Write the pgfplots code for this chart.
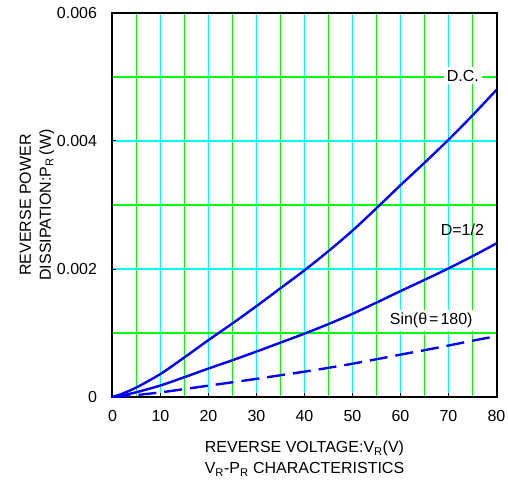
\documentclass[border=0pt]{standalone}
\usepackage{fontspec}
\setmainfont{Liberation Sans}
\usepackage{pgfplots}
\pgfplotsset{compat=1.18}
\definecolor{gridgreen}{RGB}{0,255,0}
\definecolor{gridcyan}{RGB}{0,255,255}
\definecolor{curveblue}{RGB}{0,0,255}
\begin{document}
\fontsize{16bp}{20bp}\selectfont
\begin{tikzpicture}
\begin{axis}[
  scale only axis, width=384bp, height=384bp,
  xmin=0, xmax=80, ymin=0, ymax=0.006,
  xtick={0,10,...,80}, xticklabels={0,10,20,30,40,50,60,70,80},
  ytick={0,0.002,0.004,0.006}, yticklabels={0,0.002,0.004,0.006},
  minor xtick={5,15,...,75}, minor ytick={0.001,0.003,0.005},
  scaled y ticks=false,
  grid=both,
  major grid style={gridcyan, line width=1.2bp},
  minor grid style={gridgreen, line width=1.2bp},
  tick align=inside, xtick pos=left, ytick pos=left,
  major tick length=4bp, minor tick length=0pt,
  tick style={black, line width=1bp},
  axis line style={black, line width=2bp},
  yticklabel style={xshift=-10bp},
  xticklabel style={yshift=-8bp},
  ylabel={REVERSE POWER\\DISSIPATION:P\textsubscript{R}\,(W)},
  ylabel style={align=center, at={(axis description cs:-0.197,0.5)}, anchor=center, font=\fontsize{16bp}{20bp}\selectfont},
  xlabel={REVERSE VOLTAGE:V\textsubscript{R}(V)\\V\textsubscript{R}-P\textsubscript{R} CHARACTERISTICS},
  xlabel style={align=center, at={(axis description cs:0.5,-0.161)}, anchor=center, font=\fontsize{16bp}{21bp}\selectfont},
]
\addplot[curveblue, line width=2.4bp, smooth] coordinates {
(0,0) (2,0.00005) (5,0.00015) (10,0.00036) (15,0.00062) (20,0.00089) (25,0.00115) (30,0.00142) (35,0.00170) (40,0.00198) (45,0.00228) (50,0.00260) (55,0.00295) (60,0.00331) (65,0.00366) (70,0.00402) (75,0.00440) (80,0.00480)};
\addplot[curveblue, line width=2.4bp, smooth] coordinates {
(0,0) (2,0.000025) (5,0.000075) (10,0.00018) (15,0.00031) (20,0.000445) (25,0.000575) (30,0.00071) (35,0.00085) (40,0.00099) (45,0.00114) (50,0.00130) (55,0.001475) (60,0.001655) (65,0.00183) (70,0.00201) (75,0.00220) (80,0.00240)};
\addplot[curveblue, line width=2.4bp, smooth, dash pattern=on 18bp off 8bp] coordinates {
(0,0) (2,0.00001) (5,0.00003) (10,0.000072) (15,0.000124) (20,0.000178) (25,0.00023) (30,0.000284) (35,0.00034) (40,0.000396) (45,0.000456) (50,0.00052) (55,0.00059) (60,0.000662) (65,0.000732) (70,0.000804) (75,0.00088) (80,0.00095)};
\node[fill=white, inner sep=3bp] at (axis cs:73,0.00502) {D.C.};
\node[inner sep=2bp] at (axis cs:72.9,0.00261) {D=1/2};
\node[fill=white, inner sep=3bp] at (axis cs:66.4,0.00119) {Sin(θ\kern2bp=\kern2bp180)};
\end{axis}
\pgfresetboundingbox
\path (-112.5bp,-91bp) rectangle (395.5bp,397bp);
\end{tikzpicture}
\end{document}
